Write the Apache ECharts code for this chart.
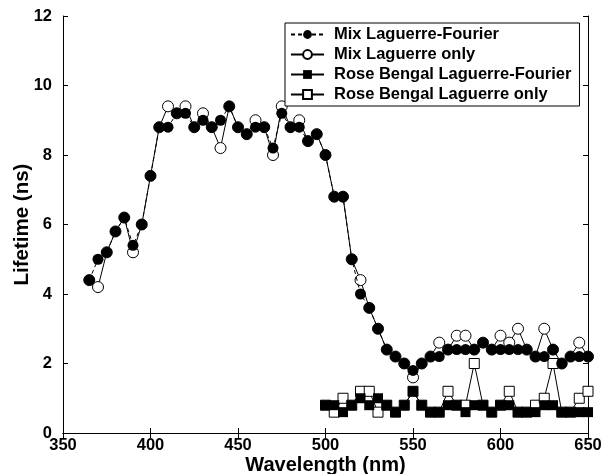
<!DOCTYPE html>
<html>
<head>
<meta charset="utf-8">
<script src="https://cdn.jsdelivr.net/npm/echarts@6/dist/echarts.min.js"></script>
<style>
html,body{margin:0;padding:0;background:#fff;}
#chart{width:604px;height:474px;}
</style>
</head>
<body>
<div id="chart"></div>
<script>
// Wavelengths (nm) for the Mix series
var mixWavelengths = [365,370,375,380,385,390,395,400,405,410,415,420,425,430,435,440,445,450,455,460,465,470,475,480,485,490,495,500,505,510,515,520,525,530,535,540,545,550,555,560,565,570,575,580,585,590,595,600,605,610,615,620,625,630,635,640,645,650];
var mixLaguerreFourier = [4.4,5.0,5.2,5.8,6.2,5.4,6.0,7.4,8.8,8.8,9.2,9.2,8.8,9.0,8.8,9.0,9.4,8.8,8.6,8.8,8.8,8.2,9.2,8.8,8.8,8.4,8.6,8.0,6.8,6.8,5.0,4.0,3.6,3.0,2.4,2.2,2.0,1.8,2.0,2.2,2.2,2.4,2.4,2.4,2.4,2.6,2.4,2.4,2.4,2.4,2.4,2.2,2.2,2.4,2.0,2.2,2.2,2.2];
var mixLaguerreOnly = [4.4,4.2,5.2,5.8,6.2,5.2,6.0,7.4,8.8,9.4,9.2,9.4,8.8,9.2,8.8,8.2,9.4,8.8,8.6,9.0,8.8,8.0,9.4,8.8,9.0,8.4,8.6,8.0,6.8,6.8,5.0,4.4,3.6,3.0,2.4,2.2,2.0,1.6,2.0,2.2,2.6,2.4,2.8,2.8,2.4,2.6,2.4,2.8,2.6,3.0,2.4,2.2,3.0,2.4,2.0,2.2,2.6,2.2];
// Wavelengths (nm) for the Rose Bengal series
var rbWavelengths = [500,505,510,515,520,525,530,535,540,545,550,555,560,565,570,575,580,585,590,595,600,605,610,615,620,625,630,635,640,645,650];
var rbLaguerreFourier = [0.8,0.8,0.6,0.8,1.0,0.8,1.0,0.8,0.6,0.8,1.2,0.8,0.6,0.6,0.8,0.8,0.6,0.8,0.8,0.6,0.8,0.8,0.6,0.6,0.6,0.8,0.8,0.6,0.6,0.6,0.6];
var rbLaguerreOnly = [0.8,0.6,1.0,0.8,1.2,1.2,0.6,0.8,0.6,0.8,1.2,0.8,0.6,0.6,1.2,0.8,0.8,2.0,0.8,0.6,0.8,1.2,0.6,0.6,0.8,1.0,2.0,0.6,0.6,1.0,1.2];
var seriesNames = ['Mix Laguerre-Fourier','Mix Laguerre only','Rose Bengal Laguerre-Fourier','Rose Bengal Laguerre only'];
var xTicks = {min:350, max:650, interval:50};
var yTicks = {min:0, max:12, interval:2};

function pairs(xs, ys){ return xs.map(function(x,i){return [x, ys[i]];}); }

var FONT = '"Liberation Sans", Arial, sans-serif';
var chart = echarts.init(document.getElementById('chart'), null, {renderer:'canvas'});
var axisCommon = {
  axisLine:{show:true, lineStyle:{color:'#000', width:1}},
  axisTick:{show:true, inside:true, length:5, lineStyle:{color:'#000', width:1}},
  splitLine:{show:false}
};
chart.setOption({
  animation:false,
  backgroundColor:'#fff',
  grid:{left:63, right:16, top:16, bottom:41, containLabel:false, outerBoundsMode:'none'},
  legend:{
    data:seriesNames,
    orient:'vertical',
    left:285, top:23,
    padding:[3,8,3,5],
    itemWidth:33, itemHeight:11,
    itemGap:3,
    backgroundColor:'#fff',
    borderColor:'#000', borderWidth:1, borderRadius:0,
    textStyle:{fontFamily:FONT, fontSize:16.5, fontWeight:'bold', color:'#000', padding:[0,0,0,5]}
  },
  xAxis:[
    Object.assign({type:'value', position:'bottom', min:xTicks.min, max:xTicks.max, interval:xTicks.interval,
      name:'Wavelength (nm)', nameLocation:'middle', nameGap:22, nameMoveOverlap:false,
      nameTextStyle:{fontFamily:FONT, fontSize:20, fontWeight:'bold', color:'#000'},
      axisLabel:{fontFamily:FONT, fontSize:16.5, fontWeight:'bold', color:'#000', margin:4}}, axisCommon),
    Object.assign({type:'value', position:'top', min:xTicks.min, max:xTicks.max, interval:xTicks.interval,
      axisLabel:{show:false}}, axisCommon)
  ],
  yAxis:[
    Object.assign({type:'value', position:'left', min:yTicks.min, max:yTicks.max, interval:yTicks.interval,
      name:'Lifetime (ns)', nameLocation:'middle', nameGap:30, nameMoveOverlap:false,
      nameTextStyle:{fontFamily:FONT, fontSize:20.5, fontWeight:'bold', color:'#000'},
      axisLabel:{fontFamily:FONT, fontSize:16.5, fontWeight:'bold', color:'#000', margin:11}}, axisCommon),
    Object.assign({type:'value', position:'right', min:yTicks.min, max:yTicks.max, interval:yTicks.interval,
      axisLabel:{show:false}}, axisCommon)
  ],
  series:[
    {name:seriesNames[0], type:'line', z:4, data:pairs(mixWavelengths, mixLaguerreFourier),
      symbol:'circle', symbolSize:11, showAllSymbol:true,
      itemStyle:{color:'#000'}, lineStyle:{color:'#000', width:1, type:[4,3]}},
    {name:seriesNames[1], type:'line', z:3, data:pairs(mixWavelengths, mixLaguerreOnly),
      symbol:'circle', symbolSize:11, showAllSymbol:true,
      itemStyle:{color:'#fff', borderColor:'#000', borderWidth:1}, lineStyle:{color:'#000', width:1}},
    {name:seriesNames[2], type:'line', z:4, data:pairs(rbWavelengths, rbLaguerreFourier),
      symbol:'rect', symbolSize:10, showAllSymbol:true,
      itemStyle:{color:'#000'}, lineStyle:{color:'#000', width:1}},
    {name:seriesNames[3], type:'line', z:3, data:pairs(rbWavelengths, rbLaguerreOnly),
      symbol:'rect', symbolSize:10, showAllSymbol:true,
      itemStyle:{color:'#fff', borderColor:'#000', borderWidth:1}, lineStyle:{color:'#000', width:1}}
  ]
});
</script>
</body>
</html>
